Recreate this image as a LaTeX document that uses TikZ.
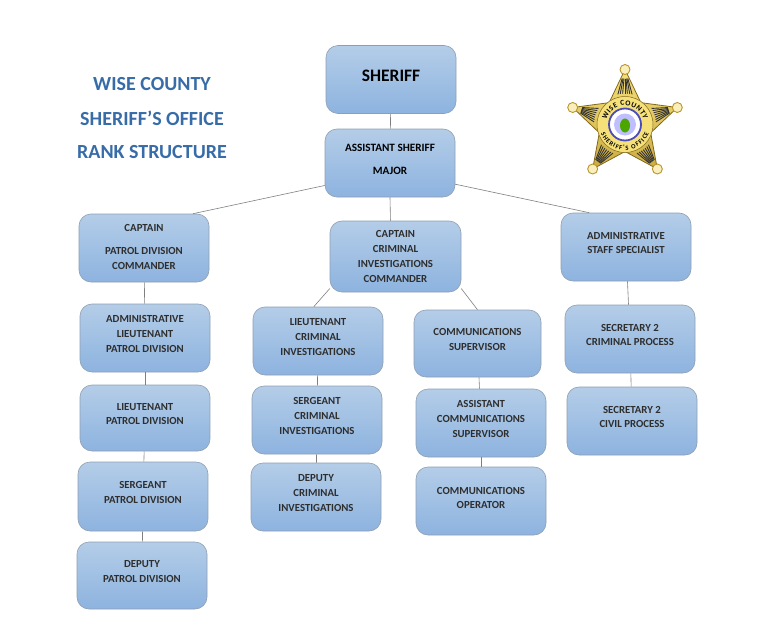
\documentclass[tikz,border=0pt]{standalone}
\usepackage{fontspec}
\setmainfont{Carlito}
\usetikzlibrary{decorations.text}

\definecolor{boxtop}{HTML}{B4CDE8}
\definecolor{boxbot}{HTML}{8DB3DF}
\definecolor{boxedge}{HTML}{8F9FB2}
\definecolor{titleblue}{HTML}{376CA8}
\definecolor{linegray}{HTML}{7F7F7F}
\definecolor{goldlight}{HTML}{F6E07A}
\definecolor{golddark}{HTML}{B8952A}

\begin{document}
\begin{tikzpicture}[
    x=1pt,y=-1pt,
    rank/.style={draw=boxedge,line width=.6pt,rounded corners=12pt,top color=boxtop,bottom color=boxbot,
      minimum width=130pt,minimum height=68pt,inner sep=0pt,align=center,text depth=8pt,
      font=\fontsize{10.8}{14.7}\selectfont\bfseries,text=black!82},
    heading/.style={text=titleblue,font=\fontsize{20}{20}\selectfont\bfseries,inner sep=0pt},
    line/.style={draw=linegray,line width=.6pt},
    tip/.style={circle,draw=golddark,line width=.9pt,fill=goldlight!50!white,inner sep=0pt,minimum size=10pt}
    ]
    \useasboundingbox (0, 0) rectangle (780, 621);
    % title
    \node[heading] (wise) at (152, 84) {WISE COUNTY};
    \node[heading] (office) at (152, 118) {SHERIFF’S OFFICE};
    \node[heading] (structure) at (152, 152) {RANK STRUCTURE};
    % top
    \node[rank,text depth=7pt,font=\fontsize{17.5}{17.5}\selectfont\bfseries,text=black] (sheriff) at (391, 79.5) {SHERIFF};
    \node[rank,font=\fontsize{11.2}{23}\selectfont\bfseries,text=black,text depth=7pt] (assistant) at (390, 163) {ASSISTANT SHERIFF\\MAJOR};
    % patrol
    \node[rank,text depth=2pt] (captpatrol) at (144, 248) {CAPTAIN\\[8pt]PATROL DIVISION\\COMMANDER};
    \node[rank] (adminlt) at (145, 338) {ADMINISTRATIVE\\LIEUTENANT\\PATROL DIVISION};
    \node[rank,minimum height=66pt] (ltpatrol) at (145, 418) {LIEUTENANT\\PATROL DIVISION};
    \node[rank,minimum height=69pt] (sgtpatrol) at (143, 496.5) {SERGEANT\\PATROL DIVISION};
    \node[rank,minimum height=67pt] (deppatrol) at (142, 575.5) {DEPUTY\\PATROL DIVISION};
    % criminal
    \node[rank,minimum width=131pt,minimum height=71pt,text depth=0pt] (captcrim) at (395.5, 256.5) {CAPTAIN\\CRIMINAL\\INVESTIGATIONS\\COMMANDER};
    \node[rank] (ltcrim) at (318, 341) {LIEUTENANT\\CRIMINAL\\INVESTIGATIONS};
    \node[rank] (sgtcrim) at (317, 420) {SERGEANT\\CRIMINAL\\INVESTIGATIONS};
    \node[rank] (depcrim) at (316, 497) {DEPUTY\\CRIMINAL\\INVESTIGATIONS};
    % communications
    \node[rank,minimum width=127pt,minimum height=67pt] (commsup) at (477.5, 343.5) {COMMUNICATIONS\\SUPERVISOR};
    \node[rank] (asstcomm) at (481, 423) {ASSISTANT\\COMMUNICATIONS\\SUPERVISOR};
    \node[rank,text depth=6pt] (commop) at (481, 501) {COMMUNICATIONS\\OPERATOR};
    % staff
    \node[rank] (staff) at (626, 247) {ADMINISTRATIVE\\STAFF SPECIALIST};
    \node[rank] (seccrim) at (630, 339) {SECRETARY 2\\CRIMINAL PROCESS};
    \node[rank] (seccivil) at (632, 421) {SECRETARY 2\\CIVIL PROCESS};
    % connectors
    \draw[line] (sheriff) -- (assistant);
    \draw[line] (assistant.199) -- (captpatrol.35);
    \draw[line] (assistant.270) -- (captcrim.98);
    \draw[line] (assistant.-18) -- (staff.137);
    \draw[line] (captpatrol) -- (adminlt);
    \draw[line] (adminlt) -- (ltpatrol);
    \draw[line] (ltpatrol) -- (sgtpatrol);
    \draw[line] (sgtpatrol) -- (deppatrol);
    \draw[line] (captcrim.206) -- (ltcrim.97);
    \draw[line] (ltcrim) -- (sgtcrim);
    \draw[line] (sgtcrim) -- (depcrim);
    \draw[line] (captcrim.-26) -- (commsup.north);
    \draw[line] (commsup) -- (asstcomm);
    \draw[line] (asstcomm) -- (commop);
    \draw[line] (staff) -- (seccrim);
    \draw[line] (seccrim) -- (seccivil);
    % badge
    \begin{scope}[shift={(625, 124.5)}]
      \draw[draw=golddark!70!black,line width=.8pt,top color=goldlight,bottom color=golddark!70!goldlight]
        (90:-55) -- (126:-27) -- (162:-55) -- (198:-27) -- (234:-55) -- (270:-27)
        -- (306:-55) -- (342:-27) -- (18:-55) -- (54:-27) -- cycle;
      \foreach \a in {90,162,234,306,18} {
        \foreach \o in {-12,-8,-4,0,4,8,12} {
          \draw[black!80,line width=.9pt] (\a+\o*1.1:-31) -- (\a+\o*.3:-46);
        }
        \node[tip] at (\a:-55) {};
      }
      \fill[goldlight] (0,0) circle (28);
      \draw[golddark!70!black,line width=.5pt] (0,0) circle (28);
      \fill[white] (0,0) circle (16);
      \draw[black!40!blue!70!white,line width=1.8pt] (0,0) circle (16);
      \fill[blue!25!white] (0,0) circle (11);
      \fill[black!50!green!70!yellow] (0,1) ellipse (5 and 7);
      \path[decorate,decoration={text along path,text align=fit to path,
          text={|\fontsize{7.5}{7.5}\selectfont\bfseries|WISE COUNTY}}]
        (195:19) arc[start angle=195,end angle=345,radius=19];
      \path[decorate,decoration={text along path,text align=fit to path,
          text={|\fontsize{6.5}{6.5}\selectfont\bfseries|SHERIFF'S OFFICE}}]
        (160:25.5) arc[start angle=160,end angle=20,radius=25.5];
    \end{scope}
  \end{tikzpicture}
\end{document}
